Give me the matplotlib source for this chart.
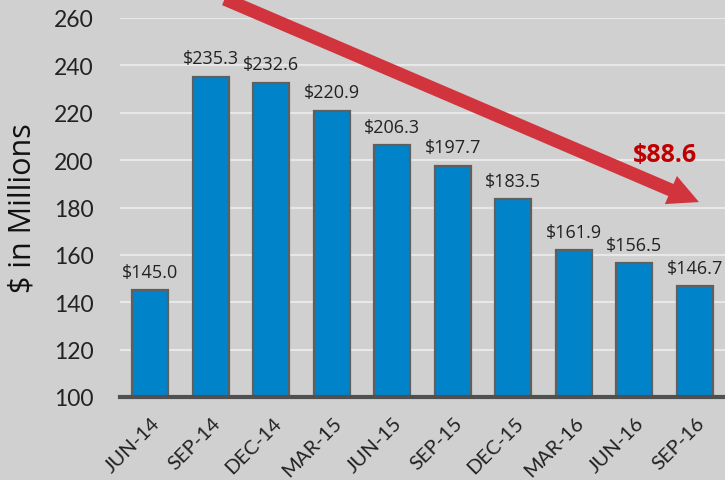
import matplotlib
matplotlib.use("Agg")
import matplotlib.pyplot as plt
from matplotlib.transforms import ScaledTranslation

categories = ["JUN-14", "SEP-14", "DEC-14", "MAR-15", "JUN-15", "SEP-15",
              "DEC-15", "MAR-16", "JUN-16", "SEP-16"]
values = [145.0, 235.3, 232.6, 220.9, 206.3, 197.7, 183.5, 161.9, 156.5, 146.7]
decline_label = "$88.6"
y_ticks = [100, 120, 140, 160, 180, 200, 220, 240, 260]

bg = "#d0d0d0"
fig = plt.figure(figsize=(7.25, 4.81), dpi=100, facecolor=bg)
ax = fig.add_axes([120/725, 1-398/481, 1-120/725, (398-19)/481])
ax.set_facecolor(bg)

x = list(range(len(categories)))
ax.bar(x, values, width=0.6, color="#0083c9", edgecolor="#5f5f5f",
       linewidth=1.6, zorder=3)
ax.set_xlim(-0.5, len(categories) - 0.5)
ax.set_ylim(100, 260)
ax.set_yticks(y_ticks)
ax.yaxis.grid(True, color="#e8e8e8", linewidth=1.5, zorder=0)
ax.set_axisbelow(True)

for s in ["top", "right", "left"]:
    ax.spines[s].set_visible(False)
ax.spines["bottom"].set_color("#505050")
ax.spines["bottom"].set_linewidth(3)
ax.spines["bottom"].set_zorder(4)

ax.tick_params(axis="y", length=0, labelsize=16.5, pad=19, labelcolor="#222222")
ax.tick_params(axis="x", length=0, pad=12)
for lab in ax.get_yticklabels():
    lab.set_fontfamily("Lato")
ax.set_xticks(x)
ax.set_xticklabels(categories, rotation=45, ha="right", rotation_mode="anchor",
                   fontsize=14.5, fontfamily="Lato", color="#222222")
shift = ScaledTranslation(1/100, 0, fig.dpi_scale_trans)
for lab in ax.get_xticklabels():
    lab.set_transform(lab.get_transform() + shift)

ax.set_ylabel("$ in Millions", fontsize=22, fontfamily="Open Sans",
              fontweight="medium", color="#111111")
ax.yaxis.set_label_coords(-0.136, 0.50)

for xi, v in zip(x, values):
    ax.text(xi, v + 4, f"${v:.1f}", ha="center", va="bottom", fontsize=13,
            fontfamily="Open Sans", color="#222222", zorder=5)

# trend arrow
x0, y0 = 1.23, 268.0
x1, y1 = 9.07, 182.3
ax.annotate("", xy=(x1, y1), xytext=(x0, y0),
            arrowprops=dict(arrowstyle="simple,head_length=22,head_width=22,tail_width=9.5",
                            mutation_scale=1, color="#d1343d", lw=0,
                            shrinkA=0, shrinkB=0),
            annotation_clip=False, zorder=6)
ax.text(8.5, 202.5, decline_label, ha="center", va="center", fontsize=18,
        fontweight="bold", fontfamily="Open Sans", color="#c00000", zorder=7)

fig.savefig("out.png", dpi=100, facecolor=bg)
